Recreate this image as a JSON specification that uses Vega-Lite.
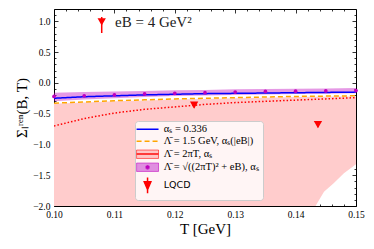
{
  "$schema": "https://vega.github.io/schema/vega-lite/v6.json",
  "width": 302,
  "height": 197,
  "autosize": {"type": "none"},
  "padding": {"left": 54, "top": 9, "right": 18, "bottom": 43},
  "background": "white",
  "config": {
    "view": {"stroke": "black", "strokeWidth": 1},
    "font": "Liberation Serif",
    "axis": {
      "domain": false, "grid": false,
      "labelFont": "Liberation Serif", "labelFontSize": 9.5, "labelColor": "#000",
      "tickColor": "#000", "tickWidth": 0.8,
      "titleColor": "#000", "titleFont": "Liberation Serif", "titleFontWeight": "normal"
    }
  },
  "datasets": {
    "lines": [
      {"T": 0.100, "v": -0.25, "s": "a"}, {"T": 0.105, "v": -0.225, "s": "a"}, {"T": 0.110, "v": -0.21, "s": "a"},
      {"T": 0.115, "v": -0.195, "s": "a"}, {"T": 0.120, "v": -0.185, "s": "a"}, {"T": 0.125, "v": -0.175, "s": "a"},
      {"T": 0.130, "v": -0.17, "s": "a"}, {"T": 0.135, "v": -0.165, "s": "a"}, {"T": 0.140, "v": -0.16, "s": "a"},
      {"T": 0.145, "v": -0.155, "s": "a"}, {"T": 0.150, "v": -0.15, "s": "a"},
      {"T": 0.100, "v": -0.33, "s": "b"}, {"T": 0.105, "v": -0.31, "s": "b"}, {"T": 0.110, "v": -0.29, "s": "b"},
      {"T": 0.115, "v": -0.275, "s": "b"}, {"T": 0.120, "v": -0.26, "s": "b"}, {"T": 0.125, "v": -0.25, "s": "b"},
      {"T": 0.130, "v": -0.24, "s": "b"}, {"T": 0.135, "v": -0.23, "s": "b"}, {"T": 0.140, "v": -0.22, "s": "b"},
      {"T": 0.145, "v": -0.215, "s": "b"}, {"T": 0.150, "v": -0.21, "s": "b"},
      {"T": 0.100, "v": -0.70, "s": "c"}, {"T": 0.105, "v": -0.58, "s": "c"}, {"T": 0.110, "v": -0.49, "s": "c"},
      {"T": 0.115, "v": -0.43, "s": "c"}, {"T": 0.120, "v": -0.39, "s": "c"}, {"T": 0.125, "v": -0.35, "s": "c"},
      {"T": 0.130, "v": -0.32, "s": "c"}, {"T": 0.135, "v": -0.30, "s": "c"}, {"T": 0.140, "v": -0.28, "s": "c"},
      {"T": 0.145, "v": -0.26, "s": "c"}, {"T": 0.150, "v": -0.24, "s": "c"}
    ],
    "pink": [
      {"T": 0.100, "lo": -2.6, "hi": -0.34}, {"T": 0.105, "lo": -2.6, "hi": -0.32},
      {"T": 0.110, "lo": -2.6, "hi": -0.30}, {"T": 0.115, "lo": -2.6, "hi": -0.285},
      {"T": 0.120, "lo": -2.6, "hi": -0.27}, {"T": 0.125, "lo": -2.6, "hi": -0.26},
      {"T": 0.130, "lo": -2.6, "hi": -0.25}, {"T": 0.135, "lo": -2.6, "hi": -0.24},
      {"T": 0.140, "lo": -2.6, "hi": -0.23}, {"T": 0.1425, "lo": -2.25, "hi": -0.227},
      {"T": 0.1433, "lo": -2.0, "hi": -0.226}, {"T": 0.1447, "lo": -1.77, "hi": -0.225},
      {"T": 0.1463, "lo": -1.63, "hi": -0.223}, {"T": 0.148, "lo": -1.47, "hi": -0.221},
      {"T": 0.150, "lo": -1.32, "hi": -0.22}
    ],
    "purple": [
      {"T": 0.100, "lo": -0.30, "hi": -0.16, "mid": -0.22},
      {"T": 0.105, "lo": -0.27, "hi": -0.15, "mid": -0.21},
      {"T": 0.110, "lo": -0.25, "hi": -0.14, "mid": -0.195},
      {"T": 0.115, "lo": -0.23, "hi": -0.13, "mid": -0.18},
      {"T": 0.120, "lo": -0.215, "hi": -0.12, "mid": -0.17},
      {"T": 0.125, "lo": -0.205, "hi": -0.115, "mid": -0.16},
      {"T": 0.130, "lo": -0.195, "hi": -0.105, "mid": -0.15},
      {"T": 0.135, "lo": -0.19, "hi": -0.10, "mid": -0.14},
      {"T": 0.140, "lo": -0.18, "hi": -0.095, "mid": -0.135},
      {"T": 0.145, "lo": -0.175, "hi": -0.09, "mid": -0.13},
      {"T": 0.150, "lo": -0.17, "hi": -0.085, "mid": -0.125}
    ],
    "lqcd": [
      {"T": 0.1079, "v": 0.99, "lo": 0.81, "hi": 1.07},
      {"T": 0.1232, "v": -0.36, "lo": -0.40, "hi": -0.33},
      {"T": 0.1437, "v": -0.68, "lo": -0.72, "hi": -0.64}
    ],
    "note": [
      {"T": 0.1101, "v": 0.99, "label": "eB = 4 GeV²"}
    ]
  },
  "layer": [
    {
      "data": {"name": "pink"},
      "mark": {"type": "area", "clip": true, "opacity": 1, "color": "#ffcccc"},
      "encoding": {
        "x": {"field": "T", "type": "quantitative", "scale": {"domain": [0.1, 0.15], "nice": false, "zero": false},
          "axis": {"orient": "bottom", "values": [0.1, 0.11, 0.12, 0.13, 0.14, 0.15], "format": ".2f", "ticks": false,
            "labelPadding": 3, "labelFlush": false, "labelOverlap": false, "title": "T [GeV]", "titleFontSize": 15, "titlePadding": 3}},
        "y": {"field": "lo", "type": "quantitative", "scale": {"domain": [-2, 1.2], "nice": false, "zero": false},
          "axis": {"orient": "left", "values": [-2, -1.5, -1, -0.5, 0, 0.5, 1], "format": ".1f", "ticks": false,
            "labelPadding": 4, "labelFlush": false, "labelOverlap": false, "title": "Σₗʳᵉⁿ(B, T)", "titleFontSize": 15, "titlePadding": 3}},
        "y2": {"field": "hi"}
      }
    },
    {
      "data": {"name": "purple"},
      "mark": {"type": "area", "clip": true, "opacity": 0.4, "color": "#bf00bf"},
      "encoding": {
        "x": {"field": "T", "type": "quantitative", "scale": {"domain": [0.1, 0.15], "nice": false, "zero": false},
          "axis": {"orient": "bottom", "values": [0.1, 0.11, 0.12, 0.13, 0.14, 0.15], "labels": false, "tickSize": -4, "title": null}},
        "y": {"field": "lo", "type": "quantitative", "scale": {"domain": [-2, 1.2], "nice": false, "zero": false},
          "axis": {"orient": "left", "values": [-2, -1.5, -1, -0.5, 0, 0.5, 1], "labels": false, "tickSize": -4, "title": null}},
        "y2": {"field": "hi"}
      }
    },
    {
      "data": {"name": "lines"},
      "mark": {"type": "line", "clip": true, "strokeWidth": 1.5},
      "encoding": {
        "x": {"field": "T", "type": "quantitative", "scale": {"domain": [0.1, 0.15], "nice": false, "zero": false},
          "axis": {"orient": "bottom", "values": [0.102, 0.104, 0.106, 0.108, 0.112, 0.114, 0.116, 0.118, 0.122, 0.124, 0.126, 0.128, 0.132, 0.134, 0.136, 0.138, 0.142, 0.144, 0.146, 0.148], "labels": false, "tickSize": -2, "title": null}},
        "y": {"field": "v", "type": "quantitative", "scale": {"domain": [-2, 1.2], "nice": false, "zero": false},
          "axis": {"orient": "left", "values": [-1.9, -1.8, -1.7, -1.6, -1.4, -1.3, -1.2, -1.1, -0.9, -0.8, -0.7, -0.6, -0.4, -0.3, -0.2, -0.1, 0.1, 0.2, 0.3, 0.4, 0.6, 0.7, 0.8, 0.9, 1.1], "labels": false, "tickSize": -2, "title": null}},
        "stroke": {"field": "s", "type": "nominal",
          "scale": {"domain": ["a", "b", "c", "d", "e"], "range": ["#0000ff", "#ffa500", "#ff0000", "#bf00bf", "#ff0000"]},
          "legend": {
            "title": null, "orient": "none", "legendX": 81, "legendY": 112,
            "padding": 3, "rowPadding": 1, "symbolOffset": 4.3, "labelOffset": 11,
            "fillColor": "#fff5f5", "strokeColor": "#cccccc", "cornerRadius": 3,
            "labelFont": "Liberation Serif", "labelFontSize": 10.5, "labelColor": "#000", "labelLimit": 300,
            "labelExpr": "datum.value=='a' ? 'αₛ = 0.336' : datum.value=='b' ? 'Λ̄ = 1.5 GeV, αₛ(|eB|)' : datum.value=='c' ? 'Λ̄ = 2πT, αₛ' : datum.value=='d' ? 'Λ̄ = √((2πT)² + eB), αₛ' : 'LQCD'",
            "encode": {
              "legend": {"update": {"fill": {"value": "#fff5f5"}, "stroke": {"value": "#cccccc"}, "strokeWidth": {"value": 1}, "cornerRadius": {"value": 3}}},
              "labels": {"update": {"font": {"signal": "datum.value=='e' ? 'DejaVu Sans' : 'Liberation Serif'"}, "fontSize": {"signal": "datum.value=='e' ? 9.5 : 10.5"}}},
              "symbols": {"update": {
                "shape": {"signal": "datum.value=='e' ? 'M0,-1.3V1.35M-0.55,-0.57H0.55L0,0.72Z' : (datum.value=='c' || datum.value=='d') ? 'M-1.83,-0.7H1.83V0.7H-1.83Z' : 'M-1.83,0H1.83'"},
                "size": {"value": 144},
                "strokeWidth": {"signal": "(datum.value=='c' || datum.value=='d') ? 0.6 : 1.5"},
                "opacity": {"value": 1},
                "fill": {"signal": "datum.value=='c' ? {gradient: 'linear', x1: 0, y1: 0, x2: 0, y2: 1, stops: [{offset: 0, color: '#ffc6c6'}, {offset: 0.41, color: '#ffc6c6'}, {offset: 0.41, color: '#ff3a3a'}, {offset: 0.59, color: '#ff3a3a'}, {offset: 0.59, color: '#ffc6c6'}, {offset: 1, color: '#ffc6c6'}]} : datum.value=='d' ? {gradient: 'radial', x1: 0.5, y1: 0.5, r1: 0, x2: 0.5, y2: 0.5, r2: 0.5, stops: [{offset: 0, color: '#bf00bf'}, {offset: 0.17, color: '#bf00bf'}, {offset: 0.2, color: '#e08ee0'}, {offset: 1, color: '#e08ee0'}]} : datum.value=='e' ? '#ff0000' : 'transparent'"},
                "stroke": {"signal": "datum.value=='a' ? '#0000ff' : datum.value=='b' ? '#ffa500' : datum.value=='c' ? '#ffb0b0' : datum.value=='d' ? '#d27ad2' : '#ff0000'"},
                "strokeDash": {"signal": "datum.value=='b' ? [5, 3] : [1, 0]"}
              }}
            }
          }
        },
        "strokeDash": {"field": "s", "type": "nominal",
          "scale": {"domain": ["a", "b", "c"], "range": [[1, 0], [5, 3], [1.5, 2]]}, "legend": null}
      }
    },
    {
      "data": {"name": "purple"},
      "mark": {"type": "point", "filled": true, "color": "#bf00bf", "size": 14, "opacity": 1},
      "encoding": {
        "x": {"field": "T", "type": "quantitative", "scale": {"domain": [0.1, 0.15], "nice": false, "zero": false},
          "axis": {"orient": "top", "values": [0.1, 0.11, 0.12, 0.13, 0.14, 0.15], "labels": false, "tickSize": -4, "title": null}},
        "y": {"field": "mid", "type": "quantitative", "scale": {"domain": [-2, 1.2], "nice": false, "zero": false},
          "axis": {"orient": "right", "values": [-2, -1.5, -1, -0.5, 0, 0.5, 1], "labels": false, "tickSize": -4, "title": null}}
      }
    },
    {
      "data": {"name": "lqcd"},
      "mark": {"type": "rule", "color": "#ff0000", "strokeWidth": 1.5},
      "encoding": {
        "x": {"field": "T", "type": "quantitative", "scale": {"domain": [0.1, 0.15], "nice": false, "zero": false},
          "axis": {"orient": "top", "values": [0.102, 0.104, 0.106, 0.108, 0.112, 0.114, 0.116, 0.118, 0.122, 0.124, 0.126, 0.128, 0.132, 0.134, 0.136, 0.138, 0.142, 0.144, 0.146, 0.148], "labels": false, "tickSize": -2, "title": null}},
        "y": {"field": "lo", "type": "quantitative", "scale": {"domain": [-2, 1.2], "nice": false, "zero": false},
          "axis": {"orient": "right", "values": [-1.9, -1.8, -1.7, -1.6, -1.4, -1.3, -1.2, -1.1, -0.9, -0.8, -0.7, -0.6, -0.4, -0.3, -0.2, -0.1, 0.1, 0.2, 0.3, 0.4, 0.6, 0.7, 0.8, 0.9, 1.1], "labels": false, "tickSize": -2, "title": null}},
        "y2": {"field": "hi"}
      }
    },
    {
      "data": {"name": "lqcd"},
      "mark": {"type": "point", "shape": "triangle-down", "filled": true, "color": "#ff0000", "size": 70, "opacity": 1},
      "encoding": {
        "x": {"field": "T", "type": "quantitative", "scale": {"domain": [0.1, 0.15], "nice": false, "zero": false}, "axis": null},
        "y": {"field": "v", "type": "quantitative", "scale": {"domain": [-2, 1.2], "nice": false, "zero": false}, "axis": null}
      }
    },
    {
      "data": {"name": "note"},
      "mark": {"type": "text", "align": "left", "baseline": "middle", "font": "Liberation Serif", "fontSize": 15, "color": "#222"},
      "encoding": {
        "x": {"field": "T", "type": "quantitative", "scale": {"domain": [0.1, 0.15], "nice": false, "zero": false}, "axis": null},
        "y": {"field": "v", "type": "quantitative", "scale": {"domain": [-2, 1.2], "nice": false, "zero": false}, "axis": null},
        "text": {"field": "label"}
      }
    }
  ],
  "resolve": {"axis": {"x": "independent", "y": "independent"}}
}
